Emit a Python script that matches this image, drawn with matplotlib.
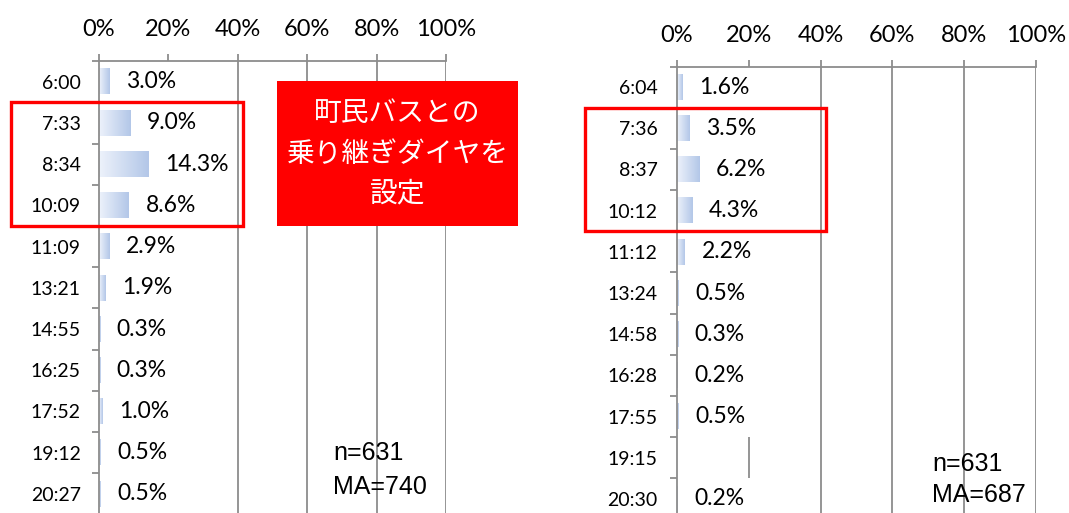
import numpy as np
import matplotlib.pyplot as plt
from matplotlib.colors import LinearSegmentedColormap
from matplotlib.patches import Rectangle

plt.rcParams['font.family'] = ['Lato', 'DejaVu Sans']

# data
left_times = ["6:00", "7:33", "8:34", "10:09", "11:09", "13:21", "14:55", "16:25", "17:52", "19:12", "20:27"]
left_vals = [3.0, 9.0, 14.3, 8.6, 2.9, 1.9, 0.3, 0.3, 1.0, 0.5, 0.5]
right_times = ["6:04", "7:36", "8:37", "10:12", "11:12", "13:24", "14:58", "16:28", "17:55", "19:15", "20:30"]
right_vals = [1.6, 3.5, 6.2, 4.3, 2.2, 0.5, 0.3, 0.2, 0.5, None, 0.2]
highlight_rows = [1, 2, 3]
x_ticks = [0, 20, 40, 60, 80, 100]

grid_c = "#8c8c8c"
grad = LinearSegmentedColormap.from_list("g", ["#edf2fb", "#b3c7e8"])

fig = plt.figure(figsize=(10.69, 5.13), dpi=100)
axL = fig.add_axes([0.0926, -0.003, 0.3246, 0.884])
axR = fig.add_axes([0.6333, -0.0127, 0.3358, 0.883])


def draw(ax, times, vals, label_pad):
    n = len(times)
    bh = 0.62
    for x in x_ticks[2:]:
        ax.axvline(x, color=grid_c, lw=1.3, zorder=1)
    for i, v in enumerate(vals):
        if v is None:
            # hidden 20% gridline shows through where there is no label
            ax.vlines(20, i - 0.5, i + 0.5, color=grid_c, lw=1.3, zorder=1)
            continue
        ax.imshow(np.linspace(0, 1, 64).reshape(1, -1), cmap=grad,
                  extent=[0, v, i + bh / 2, i - bh / 2], aspect="auto", zorder=2)
        ax.annotate(f"{v:.1f}%", (v, i), xytext=(12, 0), textcoords="offset points",
                    ha="left", va="center", fontsize=16.5, color="black")
    ax.set_xlim(0, 100)
    ax.set_ylim(n - 0.5, -0.5)
    ax.xaxis.tick_top()
    ax.set_xticks(x_ticks, [f"{t}%" for t in x_ticks])
    ax.tick_params(axis="x", length=5, width=1.3, color=grid_c, pad=10, labelsize=17,
                   labelcolor="black")
    ax.set_yticks(range(n), times)
    ax.tick_params(axis="y", which="major", length=0, pad=label_pad, labelsize=14,
                   labelcolor="black")
    ax.set_yticks(np.arange(-0.5, n, 1), minor=True)
    ax.tick_params(axis="y", which="minor", length=5, width=1.3, color=grid_c)
    for s in ["right", "bottom"]:
        ax.spines[s].set_visible(False)
    for s in ["top", "left"]:
        ax.spines[s].set_color(grid_c)
        ax.spines[s].set_linewidth(1.3)
    # red frame round the connecting trains
    r0 = highlight_rows[0] - 0.5
    ax.add_patch(Rectangle((-25.5, r0), 67, len(highlight_rows), fill=False,
                           ec="#ff0000", lw=2.4, clip_on=False, zorder=6))


draw(axL, left_times, left_vals, 13)
draw(axR, right_times, right_vals, 14)

# red note box
fig.patches.append(Rectangle((0.2591, 0.5595), 0.2254, 0.2827, transform=fig.transFigure,
                             facecolor="#ff0000", edgecolor="none", zorder=5))
fig.text(0.3718, 0.7008, "町民バスとの\n乗り継ぎダイヤを\n設定", ha="center", va="center",
         color="white", fontsize=20, linespacing=1.45, zorder=7,
         family=["Noto Sans CJK JP", "DejaVu Sans"])

fig.text(0.3115, 0.0838, "n=631\nMA=740", ha="left", va="center", fontsize=18,
         linespacing=1.55, family=["Liberation Sans", "DejaVu Sans"])
fig.text(0.8718, 0.065, "n=631\nMA=687", ha="left", va="center", fontsize=18,
         linespacing=1.35, family=["Liberation Sans", "DejaVu Sans"])

plt.savefig("out.png", dpi=100)
